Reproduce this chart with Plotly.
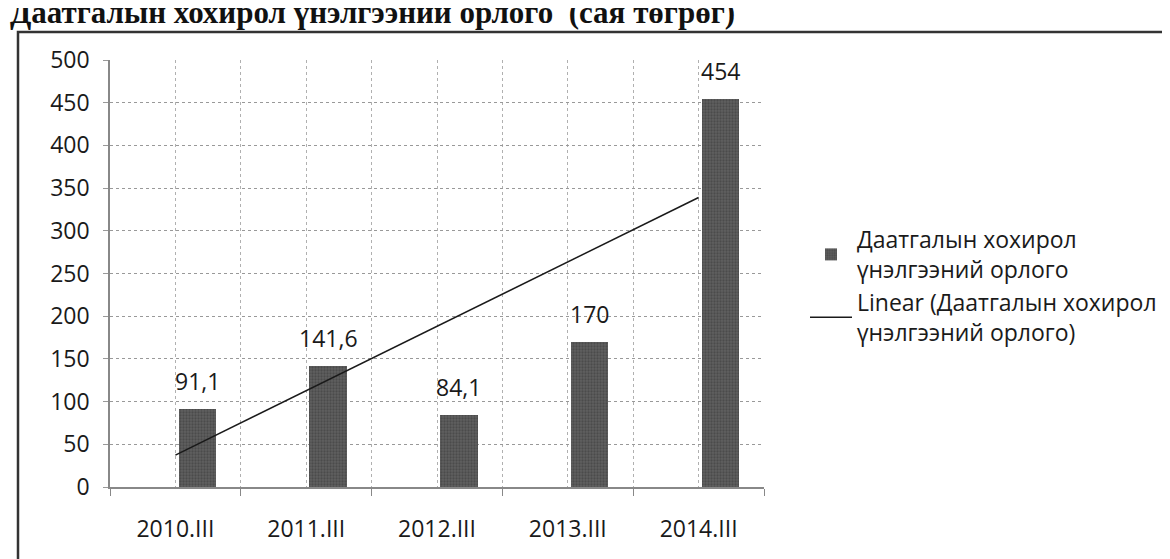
import numpy as np
import plotly.graph_objects as go

categories = ["2010.III", "2011.III", "2012.III", "2013.III", "2014.III"]
values = [91.1, 141.6, 84.1, 170, 454]
bar_name = "Даатгалын хохирол<br>үнэлгээний орлого"
trend_name = "Linear (Даатгалын хохирол<br>үнэлгээний орлого)"
title_text = "Даатгалын хохирол үнэлгээний орлого  (сая төгрөг)"
y_ticks = list(range(0, 501, 50))

xpos = list(range(len(categories)))
labels = [f"{v:g}".replace(".", ",") for v in values]
slope, intercept = np.polyfit(np.array(xpos) + 1, values, 1)
trend = [slope * (x + 1) + intercept for x in xpos]

FONT = "Open Sans"
BAR_OFFSET = 0.025
BAR_WIDTH = 0.285

# plot area in pixels
L, R, T, B = 102, 414, 52, 80
PW = 1170 - L - R
PH = 559 - T - B

def px(xp):
    return (xp - L) / PW

def py(yp):
    return 1 - (yp - T) / PH

fig = go.Figure()
fig.add_trace(go.Bar(
    x=xpos, y=values, name=bar_name,
    offset=BAR_OFFSET, width=BAR_WIDTH,
    marker=dict(color="#4e4e4e", line=dict(width=0),
                pattern=dict(shape=".", fgcolor="#363636", bgcolor="#606060", size=3, solidity=0.45)),
))
fig.add_trace(go.Scatter(
    x=xpos, y=trend, mode="lines", name=trend_name,
    line=dict(color="#1a1a1a", width=1.5),
))

for x, v, lab in zip(xpos, values, labels):
    fig.add_annotation(x=x + BAR_OFFSET + BAR_WIDTH / 2, y=v, text=lab,
                       showarrow=False, yshift=28, yanchor="middle",
                       font=dict(family=FONT, size=23, color="#1a1a1a"))

fig.update_layout(
    width=1170, height=559,
    margin=dict(l=L, r=R, t=T, b=B),
    paper_bgcolor="white", plot_bgcolor="white",
    font=dict(family=FONT, size=22, color="#1a1a1a"),
    bargap=0,
    legend=dict(x=px(797), y=py(210), xanchor="left", yanchor="top",
                font=dict(family=FONT, size=23, color="#1a1a1a"),
                itemwidth=42),
    showlegend=True,
    xaxis=dict(
        range=[-0.5, 4.5], tickmode="array", tickvals=xpos, ticktext=categories,
        showgrid=True, gridcolor="#b0b0b0", gridwidth=1, griddash="dot",
        ticks="", ticklabelstandoff=21,
        showline=True, linecolor="#888", linewidth=1.5,
        tickfont=dict(family=FONT, size=23, color="#1a1a1a"),
        minor=dict(tickmode="array", tickvals=[x - 0.5 for x in xpos] + [4.5],
                   showgrid=True, gridcolor="#b0b0b0", gridwidth=1, griddash="dot",
                   ticks="outside", ticklen=7, tickcolor="#888"),
        zeroline=False,
    ),
    yaxis=dict(
        range=[0, 500], tickmode="array", tickvals=y_ticks,
        showgrid=True, gridcolor="#999", gridwidth=1.2, griddash="dot",
        ticks="outside", ticklen=5, tickcolor="#999",
        ticklabelstandoff=9,
        showline=True, linecolor="#888", linewidth=1.5,
        tickfont=dict(family=FONT, size=23, color="#1a1a1a"),
        zeroline=False,
    ),
)

# chart frame
fig.add_shape(type="rect", xref="paper", yref="paper",
              x0=px(10), x1=px(1185), y0=py(555), y1=py(24),
              line=dict(color="#333", width=2.5), layer="below")
fig.add_annotation(text=title_text, xref="paper", yref="paper",
                   x=px(0), y=py(4), xanchor="left", yanchor="middle",
                   showarrow=False,
                   font=dict(family="Liberation Serif", size=31, color="#111", weight="bold"))

fig.write_html("out.html")
